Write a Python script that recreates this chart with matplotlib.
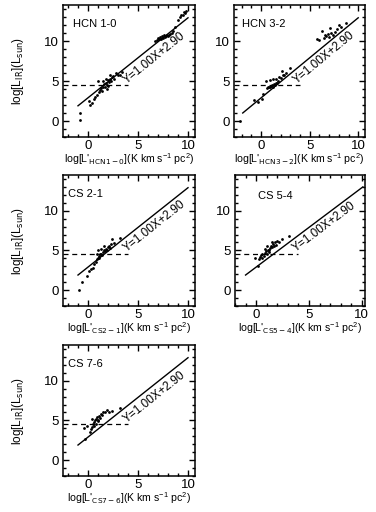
import matplotlib
matplotlib.use("Agg")
import matplotlib.pyplot as plt
from matplotlib.ticker import MultipleLocator

plt.rcParams['font.family'] = ['Liberation Sans', 'DejaVu Sans']
plt.rcParams['mathtext.default'] = 'regular'

# ---------------- data ----------------
panel_names = ["HCN 1-0", "HCN 3-2", "CS 2-1", "CS 5-4", "CS 7-6"]
sub_names = ["HCN1-0", "HCN3-2", "CS2-1", "CS5-4", "CS7-6"]

hcn10_x = [-0.8, -0.8, 0.1, 0.15, 0.4, 0.55, 0.7, 0.9, 1.0, 1.1,
           1.2, 1.3, 1.4, 1.5, 1.5, 1.6, 1.7, 1.8, 1.8, 1.9,
           1.9, 2.0, 2.0, 2.1, 2.2, 2.2, 2.3, 2.4, 2.5, 2.6,
           2.8, 3.0, 3.2, 3.4,
           6.7, 6.9, 7.0, 7.1, 7.2, 7.3, 7.4, 7.5, 7.6, 7.7,
           7.8, 7.9, 8.0, 8.1, 8.2, 8.4, 8.5, 8.7, 9.0, 9.2,
           9.3, 9.5, 9.6, 9.7, 9.8]
hcn10_y = [1.0, 0.1, 2.5, 2.0, 2.2, 2.7, 3.0, 3.3, 5.0, 3.6,
           3.9, 4.1, 3.8, 4.3, 5.0, 4.6, 4.2, 4.8, 5.3, 4.5,
           4.0, 5.1, 4.4, 4.9, 5.3, 5.8, 5.0, 5.5, 5.6, 5.2,
           6.0, 5.8, 5.7, 6.1,
           10.0, 10.1, 10.4, 10.2, 10.5, 10.3, 10.6, 10.4, 10.7, 10.5,
           10.6, 10.8, 10.6, 10.7, 10.9, 11.0, 11.2, 11.7, 12.6, 13.0,
           13.2, 13.3, 13.6, 13.5, 13.8]

hcn32_x = [-2.2, -0.7, -0.3, 0.05, 0.2, 0.6, 0.7, 0.8, 0.9, 1.0,
           1.1, 1.2, 1.3, 1.4, 1.5, 1.6, 0.5, 0.9, 1.2, 1.5,
           1.8, 2.0, 2.2, 2.4, 2.6, 3.0, 1.7, 2.1,
           5.8, 6.0, 6.3, 6.5, 6.7, 6.9, 7.0, 7.2, 7.4, 7.6,
           7.8, 8.0, 8.2, 8.7, 7.1, 6.6]
hcn32_y = [0.0, 2.6, 2.4, 2.7, 3.4, 4.1, 4.2, 4.3, 4.2, 4.4,
           4.5, 4.3, 4.6, 4.5, 4.8, 4.7, 5.0, 5.1, 5.2, 5.3,
           5.5, 5.4, 5.8, 5.7, 6.0, 6.6, 5.0, 6.2,
           10.3, 10.1, 11.2, 10.4, 10.6, 10.9, 10.5, 11.0, 10.7, 11.1,
           11.5, 12.0, 11.8, 12.3, 11.6, 10.8]

cs21_x = [-0.95, -0.6, -0.1, 0.05, 0.3, 0.5, 0.6, 0.8, 0.9, 1.0,
          1.1, 1.2, 1.3, 1.4, 1.5, 1.6, 1.7, 1.8, 1.9, 2.0,
          2.1, 2.2, 2.3, 2.4, 2.6, 3.2, 1.0, 1.3, 1.6, 0.9, 1.1]
cs21_y = [0.05, 1.0, 1.8, 2.4, 2.6, 2.8, 3.3, 3.6, 3.9, 4.1,
          4.3, 4.5, 4.6, 4.4, 4.8, 5.0, 4.9, 5.2, 5.0, 5.4,
          5.6, 5.3, 5.8, 6.4, 5.9, 6.6, 5.0, 5.2, 5.5, 4.6, 4.0]

cs54_x = [0.2, -0.1, 0.3, 0.4, 0.5, 0.6, 0.7, 0.8, 0.9, 1.0,
          1.1, 1.2, 1.3, 1.4, 1.5, 1.6, 1.7, 1.8, 2.0, 2.2,
          2.4, 3.1, 0.8, 1.0, 1.2, 1.5, 0.6, 1.9]
cs54_y = [3.0, 4.1, 3.9, 4.2, 4.4, 4.5, 4.3, 4.7, 4.9, 4.6,
          5.1, 5.0, 5.3, 5.5, 5.4, 5.8, 5.6, 6.0, 6.2, 6.1,
          6.4, 6.8, 5.2, 5.6, 4.8, 6.0, 4.0, 5.7]

cs76_x = [-0.3, -0.4, -0.1, 0.2, 0.3, 0.4, 0.5, 0.6, 0.7, 0.8,
          0.9, 1.0, 1.1, 1.2, 1.3, 1.4, 1.5, 1.7, 1.9, 2.1,
          2.4, 3.2, 0.6, 0.8, 1.0, 0.4]
cs76_y = [2.6, 4.1, 4.3, 3.5, 3.9, 4.2, 4.6, 4.8, 5.0, 5.2,
          5.4, 5.1, 5.6, 5.3, 5.8, 5.7, 6.0, 6.1, 6.3, 6.0,
          6.2, 6.6, 4.3, 4.6, 4.9, 5.2]

xs = [hcn10_x, hcn32_x, cs21_x, cs54_x, cs76_x]
ys = [hcn10_y, hcn32_y, cs21_y, cs54_y, cs76_y]

fit_slope = 1.00
fit_icpt = 2.90
fit_label = "Y=1.00X+2.90"
fit_x_range = [(-1.0, 10.0), (-1.9, 10.0), (-1.0, 10.0), (-1.0, 10.1), (-1.0, 10.0)]
dash_level = 4.5
dash_xend = 4.0
x_limits = [(-2.5, 10.7), (-2.8, 10.7), (-2.5, 10.7), (-2.0, 10.3), (-2.5, 10.7)]
y_limits = (-2.0, 14.5)
name_pos = [(0.076, 0.856), (0.06, 0.856), (0.04, 0.855), (0.18, 0.84), (0.04, 0.855)]
fit_text_pos = [(6.6, 7.9), (6.5, 7.9), (6.6, 8.05), (6.4, 7.9), (6.6, 7.9)]

# ---------------- layout ----------------
W, H = 376, 512
fig = plt.figure(figsize=(W / 100, H / 100), dpi=100)

def rect(l, r, t, b):
    return [l / W, 1 - b / H, (r - l) / W, (b - t) / H]

boxes = [rect(63, 195, 5, 137), rect(234, 365, 5, 137),
         rect(63, 195, 175, 306), rect(235, 365, 175, 306),
         rect(63, 195, 345, 476)]
has_ylabel = [True, False, True, False, True]

for i in range(5):
    ax = fig.add_axes(boxes[i])
    ax.plot(xs[i], ys[i], 'o', color='black', markersize=2.0, markeredgewidth=0)
    x0, x1 = fit_x_range[i]
    ax.plot([x0, x1], [fit_slope * x0 + fit_icpt, fit_slope * x1 + fit_icpt],
            '-', color='black', lw=1.0)
    ax.plot([x_limits[i][0], dash_xend], [dash_level, dash_level],
            '--', color='black', lw=0.9, dashes=(4, 3))
    ax.set_xlim(*x_limits[i])
    ax.set_ylim(*y_limits)
    ax.xaxis.set_major_locator(MultipleLocator(5))
    ax.xaxis.set_minor_locator(MultipleLocator(1))
    ax.yaxis.set_major_locator(MultipleLocator(5))
    ax.yaxis.set_minor_locator(MultipleLocator(1))
    ax.tick_params(which='both', direction='in', top=True, right=True,
                   labelsize=9.5, width=1.0)
    ax.tick_params(axis='y', pad=3)
    ax.tick_params(axis='x', pad=2.0)
    ax.tick_params(which='major', length=4.5)
    ax.tick_params(which='minor', length=2.5)
    for s in ax.spines.values():
        s.set_linewidth(1.1)
    ax.text(name_pos[i][0], name_pos[i][1], panel_names[i], transform=ax.transAxes,
            fontsize=8, ha='left', va='center')
    tx, ty = fit_text_pos[i]
    ax.text(tx, ty, fit_label, rotation=45, transform_rotates_text=True,
            rotation_mode='anchor', ha='center', va='center', fontsize=8.5)
    ax.set_xlabel(r"log[L'$_{\rm " + sub_names[i] + r"}$](K km s$^{-1}$ pc$^{2}$)",
                  fontsize=7.6)
    ax.xaxis.set_label_coords(0.5, -0.105)
    if has_ylabel[i]:
        ax.set_ylabel(r"log[L$_{\rm IR}$](L$_{\rm sun}$)", fontsize=8.5)
        ax.yaxis.set_label_coords(-0.28, 0.5)

fig.savefig("out.png", dpi=100)
